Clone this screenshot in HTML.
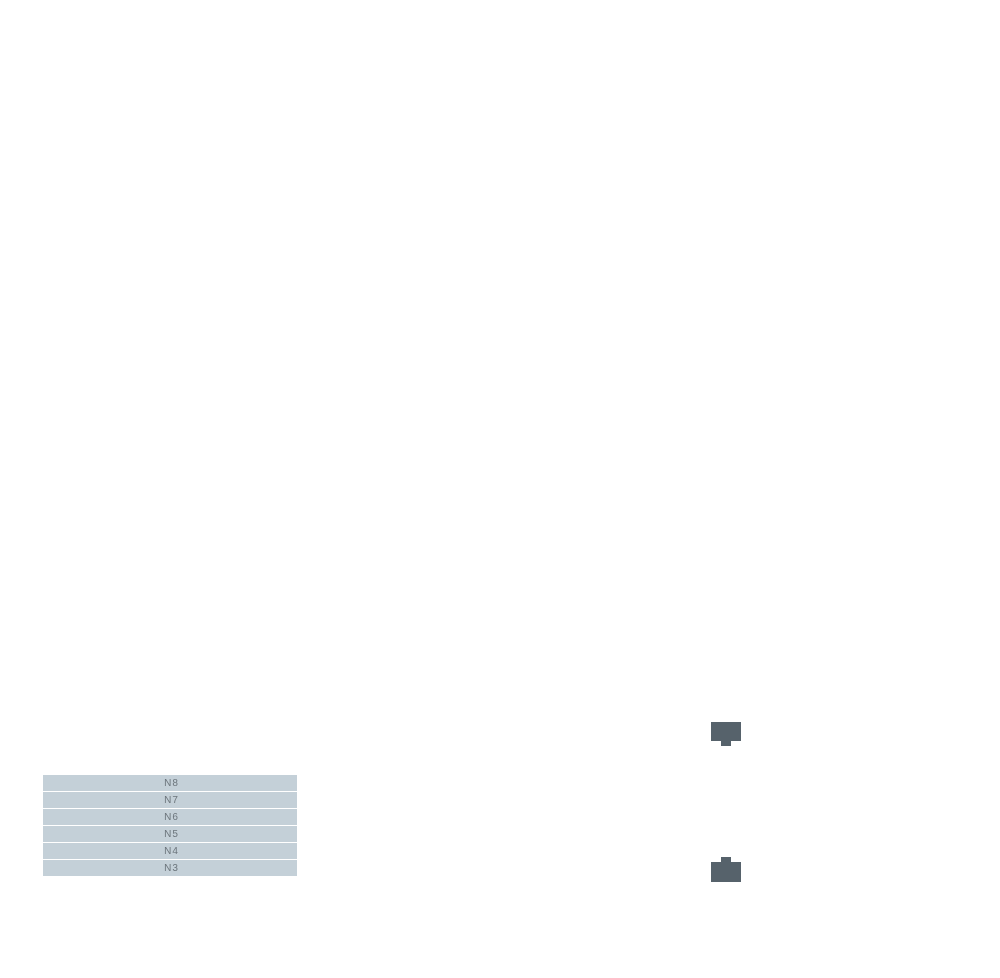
<!DOCTYPE html>
<html><head><style>
body{margin:0;background:#fff;width:1000px;height:978px;position:relative;overflow:hidden;font-family:"Liberation Sans",sans-serif}
.r{position:absolute;left:43px;width:254px;height:16px;background:#c4d0d8;color:#6b747b;font-size:10px;line-height:18px;text-align:center;letter-spacing:1px;padding-left:3px;box-sizing:border-box}
.b{position:absolute;background:#56626b}
</style></head><body>
<div class="r" style="top:775px">N8</div>
<div class="r" style="top:792px">N7</div>
<div class="r" style="top:809px">N6</div>
<div class="r" style="top:826px">N5</div>
<div class="r" style="top:843px">N4</div>
<div class="r" style="top:860px">N3</div>
<div class="b" style="left:711px;top:722px;width:30px;height:19px"></div>
<div class="b" style="left:721px;top:741px;width:10px;height:5px"></div>
<div class="b" style="left:721px;top:857px;width:10px;height:5px"></div>
<div class="b" style="left:711px;top:862px;width:30px;height:20px"></div>
</body></html>
